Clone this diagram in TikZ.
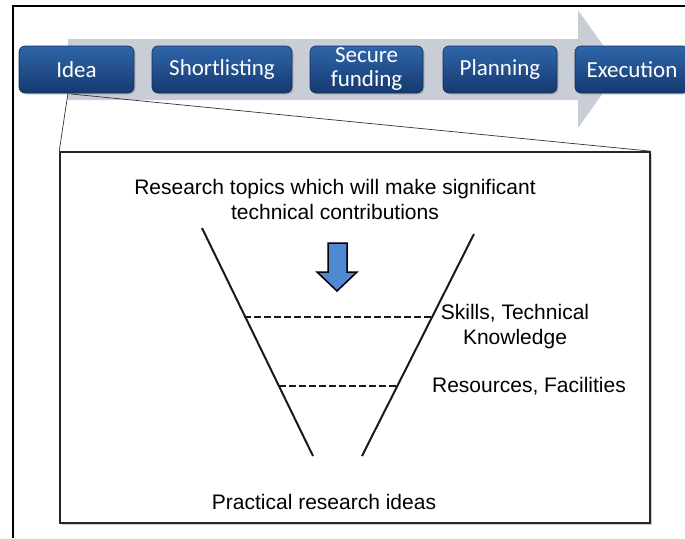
\documentclass[tikz,border=0pt]{standalone}
\usepackage{fontspec}
\setmainfont{Liberation Sans}
\newfontfamily\calibri{Carlito}
\usetikzlibrary{shadows,calc}
\definecolor{boxtop}{HTML}{2F66AA}
\definecolor{boxbot}{HTML}{15396F}
\definecolor{arrowgray}{HTML}{C9CDD6}
\definecolor{downblue}{HTML}{4F88D3}
\tikzset{
  stagebox/.style={draw=boxbot!80!black, line width=0.6pt, rounded corners=6pt,
    top color=boxtop, bottom color=boxbot, text=white, font=\calibri\fontsize{23}{24}\selectfont,
    minimum height=47pt, inner sep=0pt, align=center, drop shadow={opacity=0.35, shadow xshift=1.5pt, shadow yshift=-1.5pt}},
  bodytext/.style={font=\fontsize{21}{25}\selectfont, align=center, inner sep=0pt},
  zoomline/.style={draw=black!80, line width=0.7pt},
  funnel/.style={draw=black!90, line width=2pt},
  level/.style={draw=black!90, line width=2pt, dash pattern=on 7pt off 3pt},
}
\begin{document}
\begin{tikzpicture}[x=1pt,y=-1pt]
\useasboundingbox (0,0) rectangle (685,538);
% outer frame
\draw[line width=1.3pt] (13,538) -- (13,6) -- (685,6);
% big gray arrow
\fill[arrowgray] (68,39) -- (578,39) -- (578,10) -- (620,69) -- (578,128) -- (578,100) -- (68,100) -- cycle;
% stage boxes
\node[stagebox, minimum width=115pt] (idea) at (76.5,69.5) {Idea};
\node[stagebox, minimum width=140pt] (short) at (222,69.5) {Shortlisting};
\node[stagebox, minimum width=113pt] (fund) at (366.5,69.5) {Secure\\funding};
\node[stagebox, minimum width=114pt] (plan) at (500,69.5) {Planning};
\node[stagebox, minimum width=114pt] (exec) at (632,69.5) {Execution};
% zoom box
\node[draw=black!85, line width=1.6pt, fill=white, minimum width=590pt, minimum height=371pt, inner sep=0pt,
      drop shadow={opacity=0.4, shadow xshift=1.5pt, shadow yshift=-1.5pt}] (zoom) at (355,337.5) {};
\coordinate (za) at (68,93);
\coordinate (zb) at (71,94);
\draw[zoomline] (za) -- (zoom.north west);
\draw[zoomline] (zb) -- (zoom.north east);
% texts
\node[bodytext] (top) at (335,199.5) {Research topics which will make significant\\technical contributions};
\node[bodytext] (skills) at (515,326.5) {Skills, Technical\\Knowledge};
\node[bodytext] (res) at (529,386) {Resources, Facilities};
\node[bodytext] (prac) at (324,502) {Practical research ideas};
% funnel
\draw[funnel] (202,228) -- (313,456);
\draw[funnel] (474,234) -- (362,456);
\draw[level] (244,317) -- (432,317);
\draw[level] (279,386) -- (397,386);
% down arrow
\draw[draw=black, line width=1.5pt, fill=downblue, line join=miter]
  (328,243) -- (347,243) -- (347,272) -- (357,272) -- (337,291) -- (317,272) -- (328,272) -- cycle;
\end{tikzpicture}
\end{document}
